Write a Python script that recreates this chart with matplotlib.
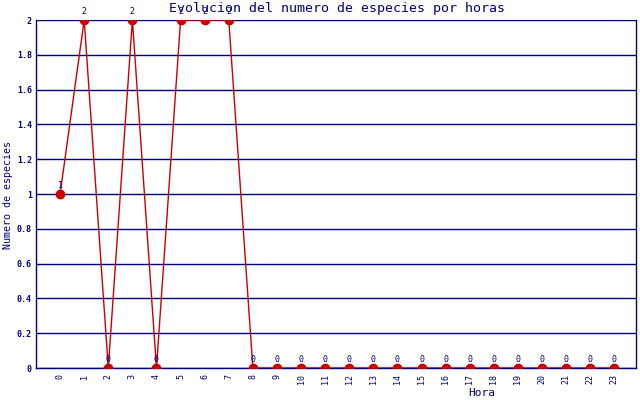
import numpy as np
import matplotlib
matplotlib.use('Agg')
import matplotlib.pyplot as plt

horas = list(range(24))
especies = [1, 2, 0, 2, 0, 2, 2, 2, 0, 0, 0, 0, 0, 0, 0, 0, 0, 0, 0, 0, 0, 0, 0, 0]
yticks = [0, 0.2, 0.4, 0.6, 0.8, 1, 1.2, 1.4, 1.6, 1.8, 2]

azul = '#000080'
rojo = '#cc0000'
plt.rcParams['font.family'] = 'DejaVu Sans Mono'

fig = plt.figure(figsize=(6.4, 4.0), dpi=100)
ax = fig.add_axes([36 / 640, 32 / 400, 600 / 640, 348 / 400])

for v in yticks:
    ax.axhline(v, color=azul, linewidth=1.0, zorder=1)

ax.plot(horas, especies, color=rojo, linewidth=1.0, marker='o', markersize=6,
        markerfacecolor=rojo, markeredgecolor=rojo, zorder=3)

for h, e in zip(horas, especies):
    ax.annotate(str(e), (h, e), xytext=(0, 3), textcoords='offset points',
                ha='center', va='bottom', fontsize=6, color=azul)

ax.set_xlim(-1, 23.9)
ax.set_ylim(0, 2)
ax.set_xticks(horas)
ax.set_xticklabels([str(h) for h in horas], rotation=90, fontsize=6, color=azul)
ax.set_yticks(yticks)
ax.set_yticklabels([('%g' % v) for v in yticks], fontsize=6, color=azul,
                   fontweight='bold')
ax.tick_params(axis='x', length=0, pad=4)
ax.tick_params(axis='y', length=0, pad=3)

for side in ['left', 'right', 'bottom']:
    ax.spines[side].set_color(azul)
    ax.spines[side].set_linewidth(1.0)
ax.spines['top'].set_visible(False)

fig.text(0.527, 0.995, 'Evolucion del numero de especies por horas',
         ha='center', va='top', fontsize=9.5, color=azul)
fig.text(0.012, 0.512, 'Numero de especies', rotation=90,
         ha='center', va='center', fontsize=7.2, color=azul)
fig.text(0.752, 0.017, 'Hora', ha='center', va='center', fontsize=8, color=azul)

fig.savefig('out.png', dpi=100)
